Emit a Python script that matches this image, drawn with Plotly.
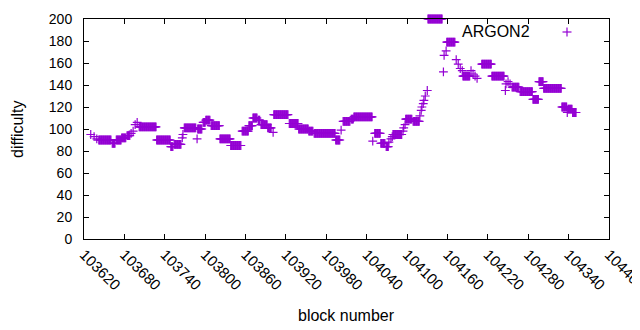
import plotly.graph_objects as go

# Runs of consecutive blocks sharing one difficulty value
run_start = [103630, 103635, 103639, 103642, 103662, 103668, 103676, 103684, 103690, 103693,
             103696, 103699, 103702, 103728, 103749, 103754, 103766, 103767, 103769, 103788,
             103789, 103797, 103801, 103809, 103822, 103838, 103855, 103865, 103871, 103879,
             103883, 103893, 103901, 103902, 103925, 103939, 103954, 103962, 103994, 104002,
             104005, 104017, 104021, 104049, 104052, 104061, 104069, 104073, 104076, 104078,
             104079, 104094, 104095, 104097, 104098, 104109, 104119, 104121, 104122, 104124,
             104125, 104127, 104130, 104131, 104154, 104155, 104158, 104159, 104173, 104176,
             104179, 104182, 104183, 104195, 104198, 104201, 104204, 104211, 104226, 104246,
             104247, 104250, 104253, 104256, 104268, 104287, 104296, 104303, 104330, 104338,
             104339, 104346]
run_end = [103630, 103635, 103639, 103660, 103666, 103675, 103682, 103688, 103690, 103693,
           103696, 103699, 103727, 103748, 103752, 103764, 103766, 103767, 103786, 103788,
           103795, 103800, 103807, 103821, 103837, 103853, 103864, 103870, 103877, 103881,
           103892, 103898, 103901, 103923, 103938, 103953, 103960, 103993, 104000, 104002,
           104015, 104020, 104048, 104049, 104060, 104067, 104072, 104073, 104076, 104078,
           104092, 104094, 104095, 104097, 104107, 104118, 104119, 104121, 104122, 104124,
           104125, 104127, 104130, 104152, 104154, 104155, 104158, 104171, 104173, 104176,
           104179, 104182, 104193, 104195, 104198, 104201, 104204, 104225, 104244, 104246,
           104247, 104250, 104253, 104266, 104286, 104295, 104302, 104329, 104337, 104338,
           104345, 104351]
run_value = [95, 93, 91, 90, 87, 90, 92, 94, 96, 98,
             104, 106, 102, 90, 84, 86, 92, 95, 101, 91,
             100, 106, 108, 103, 91, 85, 98, 103, 110, 108,
             104, 101, 97, 113, 105, 100, 98, 96, 90, 99,
             107, 109, 111, 89, 96, 87, 84, 88, 91, 93,
             95, 98, 101, 104, 109, 107, 112, 117, 120, 123,
             126, 130, 135, 200, 152, 167, 171, 179, 163, 159,
             155, 153, 148, 153, 150, 148, 146, 159, 148, 135,
             141, 143, 141, 138, 134, 127, 143, 137, 120, 115,
             118, 115]

x_ticks = list(range(103620, 104401, 60))
y_ticks = list(range(0, 201, 20))

blocks, diffs = [], []
for s, e, v in zip(run_start, run_end, run_value):
    for b in range(s, e + 1):
        blocks.append(b)
        diffs.append(v)

PURPLE = "#9400d3"
FONT = "Liberation Sans, Arial, sans-serif"

# target plot-area box in page pixels; the page body adds an 8px offset
OFF = 8
L, R, T, B = 84, 609, 19, 239
W, H = 640 - OFF, 330 - OFF
pw, ph = R - L, B - T

fig = go.Figure()
fig.add_trace(go.Scatter(
    x=blocks, y=diffs, mode="markers", name="ARGON2", showlegend=False,
    marker=dict(symbol="cross-thin", size=6.3, color=PURPLE,
                line=dict(color=PURPLE, width=1.2)),
    cliponaxis=False,
))

axis_common = dict(showline=True, linecolor="black", linewidth=1, mirror="ticks",
                   ticks="inside", ticklen=5, tickcolor="black", tickwidth=1,
                   showgrid=False, zeroline=False, automargin=False,
                   ticklabeloverflow="allow")

fig.update_xaxes(range=[103620, 104400], tickvals=x_ticks,
                 ticktext=[str(t) for t in x_ticks], tickangle=45,
                 tickfont=dict(family=FONT, size=15, color="black"),
                 **axis_common)
fig.update_yaxes(range=[0, 200], tickvals=y_ticks, ticklabelstandoff=8,
                 tickfont=dict(family=FONT, size=14, color="black"),
                 **axis_common)

# axis titles
fig.add_annotation(x=0.5, y=-(315 - B) / ph, xref="paper", yref="paper",
                   text="block number", showarrow=False, xanchor="center", yanchor="middle",
                   font=dict(family=FONT, size=16, color="black"))
fig.add_annotation(x=-(L - 17) / pw, y=0.5, xref="paper", yref="paper",
                   text="difficulty", showarrow=False, xanchor="center", yanchor="middle",
                   textangle=-90, font=dict(family=FONT, size=16, color="black"))

# gnuplot-style key: text then sample
fig.add_annotation(x=(532 - L) / pw, y=(B - 31) / ph, xref="paper", yref="paper",
                   text="ARGON2", showarrow=False, xanchor="right", yanchor="middle",
                   font=dict(family=FONT, size=16, color="black"))
fig.add_shape(type="line", xref="paper", yref="paper",
              x0=(567 - 4.5 - L) / pw, x1=(567 + 4.5 - L) / pw,
              y0=(B - 32) / ph, y1=(B - 32) / ph,
              line=dict(color=PURPLE, width=1.2))
fig.add_shape(type="line", xref="paper", yref="paper",
              x0=(567 - L) / pw, x1=(567 - L) / pw,
              y0=(B - 36.5) / ph, y1=(B - 27.5) / ph,
              line=dict(color=PURPLE, width=1.2))

fig.update_layout(width=W, height=H,
                  margin=dict(l=L - OFF, r=640 - R, t=T - OFF, b=330 - B),
                  plot_bgcolor="white", paper_bgcolor="white",
                  font=dict(family=FONT, color="black"))

fig.write_html("out.html")
